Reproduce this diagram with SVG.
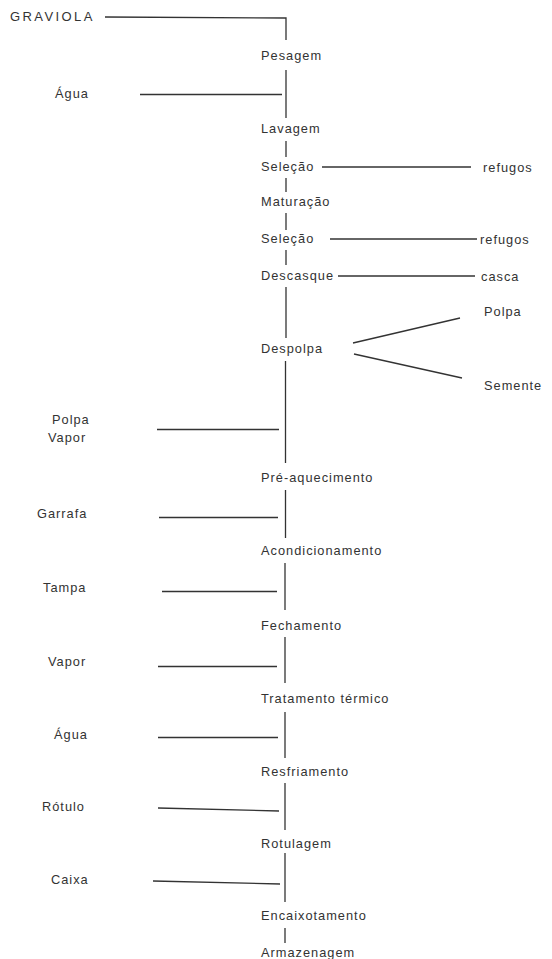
<svg xmlns="http://www.w3.org/2000/svg" width="552" height="959" viewBox="0 0 552 959">
<style>
text{font-family:"Liberation Sans",Arial,sans-serif;font-size:12.8px;fill:#333;letter-spacing:1px}
.title{letter-spacing:2.4px;font-size:13px}
line,polyline{stroke:#333;stroke-width:1.3;fill:none}
</style>
<rect width="552" height="959" fill="#fff"/>
<g id="connectors">
<polyline points="105,17 286,18 286,40"/>
<line x1="286" y1="70" x2="286" y2="118"/>
<line x1="140" y1="94.5" x2="282" y2="94.5"/>
<line x1="286" y1="141" x2="286" y2="157"/>
<line x1="286" y1="178" x2="286" y2="192"/>
<line x1="286" y1="213" x2="286" y2="230"/>
<line x1="286" y1="250" x2="286" y2="265"/>
<line x1="286" y1="287" x2="286" y2="338"/>
<line x1="285.5" y1="361" x2="285.5" y2="463"/>
<line x1="285.5" y1="490" x2="285.5" y2="538"/>
<line x1="285" y1="563" x2="285" y2="610"/>
<line x1="285" y1="637" x2="285" y2="683"/>
<line x1="285" y1="712" x2="285" y2="758"/>
<line x1="285" y1="783" x2="285" y2="830"/>
<line x1="285" y1="853" x2="285" y2="902"/>
<line x1="285" y1="928" x2="285" y2="943"/>
<line x1="322" y1="167" x2="471" y2="167"/>
<line x1="330" y1="239" x2="477" y2="239"/>
<line x1="338" y1="276" x2="475" y2="276"/>
<line x1="353" y1="343" x2="460" y2="318"/>
<line x1="354" y1="354" x2="462" y2="378"/>
<line x1="157" y1="429.5" x2="279" y2="429.5"/>
<line x1="159" y1="517.5" x2="278" y2="517.5"/>
<line x1="162" y1="591.5" x2="277" y2="591.5"/>
<line x1="158" y1="666.5" x2="277" y2="666.5"/>
<line x1="158" y1="737.5" x2="278" y2="737.5"/>
<line x1="158" y1="808" x2="279" y2="811"/>
<line x1="153" y1="881" x2="280" y2="884"/>
</g>
<g id="graviola"><text class="title" x="10" y="21">GRAVIOLA</text></g>
<g id="pesagem"><text x="261" y="60">Pesagem</text></g>
<g id="agua1"><text x="55" y="98">Água</text></g>
<g id="lavagem"><text x="261" y="133">Lavagem</text></g>
<g id="selecao1"><text x="261" y="171">Seleção</text></g>
<g id="refugos1"><text x="483" y="172">refugos</text></g>
<g id="maturacao"><text x="261" y="206">Maturação</text></g>
<g id="selecao2"><text x="261" y="243">Seleção</text></g>
<g id="refugos2"><text x="480" y="244">refugos</text></g>
<g id="descasque"><text x="261" y="280">Descasque</text></g>
<g id="casca"><text x="481" y="281">casca</text></g>
<g id="polpa-out"><text x="484" y="316">Polpa</text></g>
<g id="despolpa"><text x="261" y="353">Despolpa</text></g>
<g id="semente"><text x="484" y="390">Semente</text></g>
<g id="polpa-vapor"><text x="52" y="424">Polpa</text><text x="48" y="442">Vapor</text></g>
<g id="preaquecimento"><text x="261" y="482">Pré-aquecimento</text></g>
<g id="garrafa"><text x="37" y="518">Garrafa</text></g>
<g id="acondicionamento"><text x="261" y="555">Acondicionamento</text></g>
<g id="tampa"><text x="43" y="592">Tampa</text></g>
<g id="fechamento"><text x="261" y="630">Fechamento</text></g>
<g id="vapor2"><text x="48" y="666">Vapor</text></g>
<g id="tratamento"><text x="261" y="703">Tratamento térmico</text></g>
<g id="agua2"><text x="54" y="739">Água</text></g>
<g id="resfriamento"><text x="261" y="776">Resfriamento</text></g>
<g id="rotulo"><text x="42" y="811">Rótulo</text></g>
<g id="rotulagem"><text x="261" y="848">Rotulagem</text></g>
<g id="caixa"><text x="51" y="884">Caixa</text></g>
<g id="encaixotamento"><text x="261" y="920">Encaixotamento</text></g>
<g id="armazenagem"><text x="261" y="957">Armazenagem</text></g>
</svg>
